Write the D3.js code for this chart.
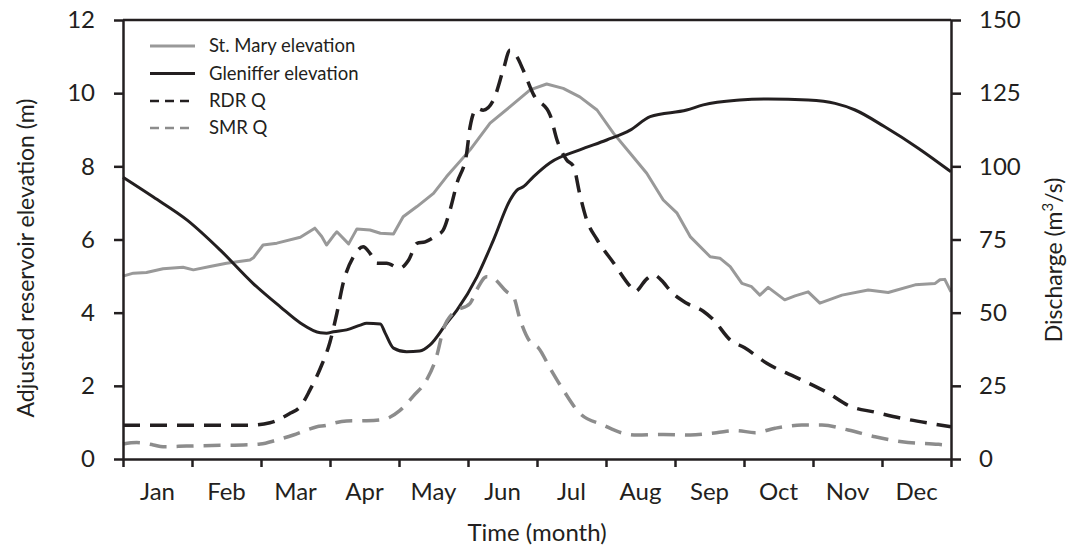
<!DOCTYPE html>
<html>
<head>
<meta charset="utf-8">
<script src="https://cdn.jsdelivr.net/npm/d3@7"></script>
<style>
  html, body { margin: 0; padding: 0; background: #fff; }
  svg { display: block; }
  text { font-family: Lato, "Open Sans", sans-serif; fill: #231f20; }
</style>
</head>
<body>
<svg id="chart" width="1074" height="548"></svg>
<script>
// Month labels along the time axis
const months = ["Jan","Feb","Mar","Apr","May","Jun","Jul","Aug","Sep","Oct","Nov","Dec"];

// Axis ticks
const elevTicks = [0, 2, 4, 6, 8, 10, 12];
const qTicks = [0, 25, 50, 75, 100, 125, 150];

// Series: [time in months from 1 Jan, value]
// St. Mary reservoir adjusted elevation (m)
const stMaryElev = [
  [0.00,5.00],[0.15,5.08],[0.34,5.10],[0.58,5.20],[0.87,5.24],[1.02,5.17],[1.26,5.26],
  [1.50,5.35],[1.84,5.44],[1.89,5.50],[2.03,5.85],[2.23,5.90],[2.57,6.06],[2.78,6.31],
  [2.88,6.08],[2.95,5.85],[3.05,6.10],[3.10,6.21],[3.27,5.88],[3.39,6.29],[3.58,6.26],
  [3.73,6.17],[3.92,6.15],[4.06,6.62],[4.26,6.90],[4.50,7.26],[4.69,7.72],[5.03,8.45],
  [5.32,9.18],[5.61,9.63],[5.90,10.09],[6.14,10.25],[6.38,10.13],[6.62,9.90],[6.87,9.54],
  [7.11,8.90],[7.35,8.36],[7.59,7.81],[7.83,7.08],[8.03,6.72],[8.22,6.08],[8.51,5.53],
  [8.65,5.49],[8.80,5.26],[8.97,4.80],[9.11,4.71],[9.23,4.48],[9.35,4.69],[9.59,4.35],
  [9.74,4.46],[9.93,4.57],[10.10,4.26],[10.42,4.48],[10.80,4.62],[11.09,4.55],[11.48,4.76],
  [11.77,4.80],[11.84,4.90],[11.91,4.91],[12.00,4.57]
];

// Gleniffer reservoir adjusted elevation (m)
const glenifferElev = [
  [0.00,7.70],[0.44,7.16],[0.93,6.53],[1.41,5.71],[1.88,4.81],[2.28,4.16],[2.57,3.72],
  [2.86,3.45],[2.95,3.44],[3.05,3.48],[3.24,3.53],[3.44,3.66],[3.53,3.71],[3.73,3.69],
  [3.80,3.44],[3.92,3.03],[4.11,2.93],[4.30,2.95],[4.45,3.12],[4.69,3.71],[4.84,4.07],
  [5.13,4.98],[5.37,5.99],[5.61,7.08],[5.71,7.35],[5.80,7.44],[5.95,7.72],[6.19,8.10],
  [6.62,8.45],[7.01,8.72],[7.35,8.99],[7.64,9.36],[8.17,9.54],[8.41,9.68],[8.94,9.81],
  [9.35,9.84],[9.93,9.81],[10.32,9.72],[10.61,9.54],[11.04,9.08],[11.53,8.49],
  [12.00,7.85]
];

// Discharge below the RDR (m3/s)
const rdrQ = [
  [0.00,11.5],[1.79,11.5],[2.13,12.4],[2.42,15.6],[2.57,17.9],[2.71,23.6],[2.86,31.0],
  [3.00,40.0],[3.10,49.8],[3.19,60.0],[3.34,69.1],[3.48,72.5],[3.58,70.3],[3.68,66.9],
  [3.82,66.9],[4.01,65.2],[4.14,68.0],[4.26,73.7],[4.38,74.2],[4.55,76.5],[4.64,78.2],
  [4.74,85.1],[4.84,94.2],[4.98,104.4],[5.03,113.5],[5.13,119.8],[5.22,119.2],[5.37,122.7],
  [5.51,132.9],[5.61,139.7],[5.71,137.4],[5.80,132.9],[5.95,124.5],[6.19,117.5],[6.29,109.0],
  [6.43,102.2],[6.53,99.9],[6.62,90.5],[6.72,81.7],[6.87,75.0],[7.11,67.0],[7.35,59.0],
  [7.42,57.2],[7.59,61.5],[7.69,62.9],[7.83,60.4],[7.93,57.5],[8.17,53.2],[8.41,50.5],
  [8.56,47.5],[8.80,40.7],[9.01,38.0],[9.33,32.7],[9.81,27.3],[10.20,22.8],[10.54,18.0],
  [10.90,16.0],[11.29,13.9],[11.77,11.9],[12.00,11.0]
];

// Discharge below the SMR (m3/s)
const smrQ = [
  [0.00,5.1],[0.20,5.6],[0.44,4.8],[0.58,4.2],[0.92,4.4],[1.41,4.7],[1.74,4.8],[1.99,5.1],
  [2.23,6.5],[2.47,8.2],[2.66,9.9],[2.81,11.0],[2.95,11.5],[3.05,12.2],[3.24,13.0],
  [3.53,13.1],[3.77,13.5],[4.01,16.5],[4.21,21.6],[4.40,27.0],[4.55,35.5],[4.64,44.1],
  [4.79,50.0],[5.03,53.2],[5.13,58.0],[5.27,62.3],[5.37,61.7],[5.56,57.2],[5.66,55.4],
  [5.75,48.0],[5.90,40.0],[6.02,38.0],[6.19,31.0],[6.38,23.6],[6.62,15.6],[6.96,11.6],
  [7.25,8.8],[7.45,8.2],[7.83,8.4],[8.22,8.2],[8.60,9.0],[8.89,9.7],[9.16,9.0],[9.45,10.5],
  [9.84,11.6],[10.13,11.6],[10.51,9.9],[10.90,7.6],[11.29,5.9],[11.82,5.0],[11.91,4.8]
];

const svg = d3.select("#chart");
const plotL = 123, plotR = 951, plotT = 20, plotB = 459;
const ink = "#231f20";
const labelSize = "24px";

const x = d3.scaleLinear().domain([0, 12]).range([plotL, plotR]);
const yL = d3.scaleLinear().domain([0, 12]).range([plotB, plotT]);
const yR = d3.scaleLinear().domain([0, 150]).range([plotB, plotT]);

// Series lines
const series = [
  { data: stMaryElev, y: yL, color: "#999999", width: 3, dash: null, curve: d3.curveLinear },
  { data: glenifferElev, y: yL, color: ink, width: 3, dash: null, curve: d3.curveMonotoneX },
  { data: rdrQ, y: yR, color: ink, width: 3.5, dash: "17,10", curve: d3.curveMonotoneX },
  { data: smrQ, y: yR, color: "#8c8c8c", width: 3.5, dash: "17,10", curve: d3.curveMonotoneX }
];

const plot = svg.append("g");
series.forEach(s => {
  const line = d3.line().x(d => x(d[0])).y(d => s.y(d[1])).curve(s.curve);
  plot.append("path")
    .datum(s.data)
    .attr("d", line)
    .attr("fill", "none")
    .attr("stroke", s.color)
    .attr("stroke-width", s.width)
    .attr("stroke-linejoin", "round")
    .attr("stroke-dasharray", s.dash);
});

// Frame top edge
svg.append("line")
  .attr("x1", plotL).attr("x2", plotR).attr("y1", plotT).attr("y2", plotT)
  .attr("stroke", ink).attr("stroke-width", 2.5);

// Axes
function styleAxis(g) {
  g.select(".domain").attr("stroke", ink).attr("stroke-width", 2.5);
  g.selectAll(".tick line").attr("stroke", ink).attr("stroke-width", 2.5);
  g.selectAll(".tick text").attr("fill", ink)
    .style("font-family", "Lato, 'Open Sans', sans-serif")
    .style("font-size", labelSize);
}

const gL = svg.append("g").attr("transform", `translate(${plotL},0)`)
  .call(d3.axisLeft(yL).tickValues(elevTicks).tickSize(9).tickPadding(19).tickSizeOuter(0));
styleAxis(gL);

const gR = svg.append("g").attr("transform", `translate(${plotR},0)`)
  .call(d3.axisRight(yR).tickValues(qTicks).tickSize(10).tickPadding(18).tickSizeOuter(0));
styleAxis(gR);

const gX = svg.append("g").attr("transform", `translate(0,${plotB})`)
  .call(d3.axisBottom(x).tickValues(d3.range(0, 13)).tickSize(8).tickFormat("").tickSizeOuter(0));
styleAxis(gX);

// Month names centred between ticks
svg.append("g").selectAll("text")
  .data(months)
  .join("text")
  .attr("x", (d, i) => x(i + 0.5))
  .attr("y", 500)
  .attr("text-anchor", "middle")
  .style("font-size", labelSize)
  .text(d => d);

// Axis titles
svg.append("text")
  .attr("transform", `translate(${x(6)},541)`)
  .attr("text-anchor", "middle")
  .style("font-size", labelSize)
  .text("Time (month)");

svg.append("text")
  .attr("transform", "translate(34,258) rotate(-90)")
  .attr("text-anchor", "middle")
  .style("font-size", "23px")
  .text("Adjusted reservoir elevation (m)");

const rt = svg.append("text")
  .attr("transform", "translate(1062,260) rotate(-90)")
  .attr("text-anchor", "middle")
  .style("font-size", "23px");
rt.append("tspan").text("Discharge (m");
rt.append("tspan").attr("baseline-shift", "super").style("font-size", "15px").text("3");
rt.append("tspan").text("/s)");

// Legend
const legendItems = [
  { label: "St. Mary elevation", color: "#999999", dash: null, width: 3 },
  { label: "Gleniffer elevation", color: ink, dash: null, width: 3 },
  { label: "RDR Q", color: ink, dash: "9,6", width: 2.5 },
  { label: "SMR Q", color: "#8c8c8c", dash: "9,6", width: 2.5 }
];
const legend = svg.append("g");
const rowY = [46, 73.5, 101, 128];
legendItems.forEach((d, i) => {
  legend.append("line")
    .attr("x1", 150).attr("x2", 195)
    .attr("y1", rowY[i]).attr("y2", rowY[i])
    .attr("stroke", d.color).attr("stroke-width", d.width)
    .attr("stroke-dasharray", d.dash);
  legend.append("text")
    .attr("x", 209).attr("y", rowY[i])
    .attr("dy", "0.35em")
    .style("font-size", "18.5px")
    .text(d.label);
});
</script>
</body>
</html>
